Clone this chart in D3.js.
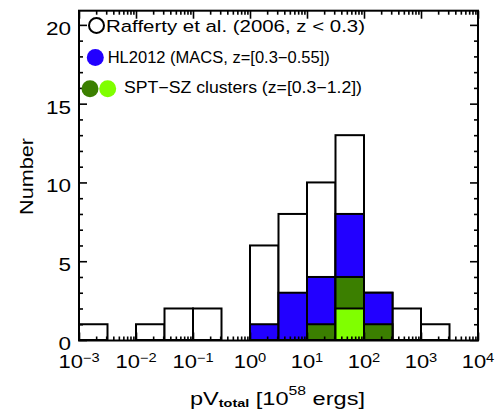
<!DOCTYPE html>
<html><head><meta charset="utf-8">
<script src="https://cdn.jsdelivr.net/npm/d3@7"></script>
<style>
html,body{margin:0;padding:0;background:#fff;}
svg{display:block;}
text{font-family:"Liberation Sans",Arial,Helvetica,sans-serif;fill:#000;}
</style></head>
<body>
<script>
// ---- data ----
const binLog = [-3, -2, -1.5, -1, 0, 0.5, 1, 1.5, 2, 2.5, 3]; // log10 lower edges
const binWidthLog = 0.5;
const totalCounts = [1, 1, 2, 2, 6, 8, 10, 13, 3, 2, 1];     // Rafferty et al. (all)
const hlCounts    = [0, 0, 0, 0, 1, 3, 4, 8, 3, 0, 0];        // HL2012 (MACS)
const sptDark     = [0, 0, 0, 0, 0, 0, 1, 4, 1, 0, 0];        // SPT-SZ
const sptLight    = [0, 0, 0, 0, 0, 0, 0, 2, 0, 0, 0];        // SPT-SZ (light)
const xTickExps = [-3, -2, -1, 0, 1, 2, 3, 4];
const yTickVals = [0, 5, 10, 15, 20];
const legendItems = [
  {label: "Rafferty et al. (2006, z < 0.3)", colors: ["#ffffff"]},
  {label: "HL2012 (MACS, z=[0.3\u22120.55])", colors: ["#2200ff"]},
  {label: "SPT\u2212SZ clusters (z=[0.3\u22121.2])", colors: ["#3b7f00", "#80ff00"]}
];
const seriesColors = ["#ffffff", "#2200ff", "#3b7f00", "#80ff00"];

const W = 501, H = 413;
const L = 79, R = 478, T = 10.7, B = 340.5;
const svg = d3.select("body").append("svg").attr("width", W).attr("height", H);
svg.append("rect").attr("width", W).attr("height", H).attr("fill", "#fff");

const x = d3.scaleLog().domain([1e-3, 1e4]).range([L, R]);
const y = d3.scaleLinear().domain([0, 20.9]).range([340, T]);

function stretch(t, f, cx, anchor) {
  const n = t.node();
  const len = n.getComputedTextLength();
  const tl = len * f;
  t.attr("textLength", tl).attr("lengthAdjust", "spacingAndGlyphs");
  if (anchor === "middle") t.attr("x", cx - tl / 2);
  else if (anchor === "end") t.attr("x", cx - tl);
}

// ---- bars ----
const seriesList = [totalCounts, hlCounts, sptDark, sptLight];
seriesList.forEach((vals, si) => {
  const data = binLog.map((b, i) => ({lo: Math.pow(10, b), hi: Math.pow(10, b + binWidthLog), v: vals[i]})).filter(d => d.v > 0);
  svg.append("g").selectAll("rect").data(data).join("rect")
    .attr("x", d => x(d.lo)).attr("width", d => x(d.hi) - x(d.lo))
    .attr("y", d => y(d.v)).attr("height", d => y(0) - y(d.v))
    .attr("fill", seriesColors[si]).attr("stroke", "#000").attr("stroke-width", 2);
});

// ---- axes ----
const decades = xTickExps.map(e => Math.pow(10, e));
const minorX = x.ticks().filter(v => !decades.some(d => Math.abs(d - v) / d < 1e-6));
function styleAxis(g) { g.select(".domain").remove(); g.selectAll("line").attr("stroke", "#000").attr("stroke-width", 1.6); g.selectAll("text").remove(); }
svg.append("g").attr("transform", `translate(0,${B})`).call(d3.axisBottom(x).tickValues(decades).tickSize(-8)).call(styleAxis);
svg.append("g").attr("transform", `translate(0,${B})`).call(d3.axisBottom(x).tickValues(minorX).tickSize(-4)).call(styleAxis);
svg.append("g").attr("transform", `translate(0,${T})`).call(d3.axisTop(x).tickValues(decades).tickSize(-8)).call(styleAxis);
svg.append("g").attr("transform", `translate(0,${T})`).call(d3.axisTop(x).tickValues(minorX).tickSize(-4)).call(styleAxis);
const minorY = d3.range(0, 21).filter(v => v % 5 !== 0);
svg.append("g").attr("transform", `translate(${L},0)`).call(d3.axisLeft(y).tickValues(yTickVals).tickSize(-8)).call(styleAxis);
svg.append("g").attr("transform", `translate(${L},0)`).call(d3.axisLeft(y).tickValues(minorY).tickSize(-4)).call(styleAxis);
svg.append("g").attr("transform", `translate(${R},0)`).call(d3.axisRight(y).tickValues(yTickVals).tickSize(-8)).call(styleAxis);
svg.append("g").attr("transform", `translate(${R},0)`).call(d3.axisRight(y).tickValues(minorY).tickSize(-4)).call(styleAxis);

// frame
svg.append("rect").attr("x", L).attr("y", T).attr("width", R - L).attr("height", B - T)
  .attr("fill", "none").attr("stroke", "#000").attr("stroke-width", 2);

// y tick labels
yTickVals.forEach(v => {
  const t = svg.append("text").attr("x", 71).attr("y", y(v) + 10).attr("font-size", 18).text(v);
  t.attr("text-anchor", "start");
  stretch(t, 1.25, 71, "end");
});
// x tick labels
xTickExps.forEach(e => {
  const t = svg.append("text").attr("y", 368.3).attr("font-size", 18);
  t.append("tspan").text("10");
  t.append("tspan").attr("font-size", 12).attr("dy", -6.5).text(e < 0 ? "\u2212" + (-e) : String(e));
  stretch(t, 1.22, x(Math.pow(10, e)), "middle");
});

// axis titles
const xt = svg.append("text").attr("y", 405).attr("font-size", 18);
xt.append("tspan").text("pV");
xt.append("tspan").attr("font-size", 11).attr("font-weight", "bold").attr("dy", 2).text("total");
xt.append("tspan").attr("dy", -2).text(" [10");
xt.append("tspan").attr("font-size", 12).attr("dy", -10).text("58");
xt.append("tspan").attr("dy", 10).text(" ergs]");
xt.attr("x", 190).attr("textLength", 175).attr("lengthAdjust", "spacingAndGlyphs");

svg.append("text").attr("transform", "translate(33,215) rotate(-90)").attr("font-size", 19)
  .attr("textLength", 77).attr("lengthAdjust", "spacingAndGlyphs").text("Number");

// legend
const legRows = [
  {cy: 25.5, cx: [96.5], tx: 106, tw: 259, base: 31.7},
  {cy: 57.5, cx: [95.3], tx: 107.7, tw: 222, base: 63.3},
  {cy: 88.7, cx: [90, 107.7], tx: 124, tw: 238, base: 93.3}
];
legendItems.forEach((it, i) => {
  const r = legRows[i];
  it.colors.forEach((c, j) => {
    svg.append("circle").attr("cx", r.cx[j]).attr("cy", r.cy).attr("r", i === 0 ? 7.5 : 8.5)
      .attr("fill", c).attr("stroke", i === 0 ? "#000" : "none").attr("stroke-width", 2);
  });
  svg.append("text").attr("x", r.tx).attr("y", r.base).attr("font-size", 16.3)
    .attr("textLength", r.tw).attr("lengthAdjust", "spacingAndGlyphs").text(it.label);
});
</script>
</body></html>
